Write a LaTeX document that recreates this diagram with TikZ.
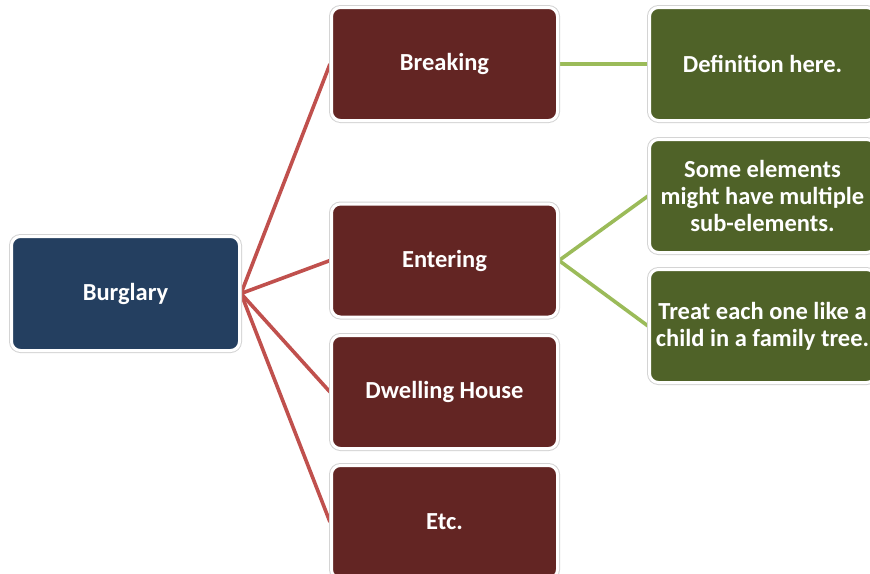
\documentclass[tikz,border=0pt]{standalone}
\usepackage{fontspec}
\setmainfont{Carlito}
\usetikzlibrary{backgrounds}
\definecolor{rootblue}{HTML}{243F60}
\definecolor{elemred}{HTML}{632523}
\definecolor{subgreen}{HTML}{4F6228}
\definecolor{linkred}{HTML}{C0504D}
\definecolor{linkgreen}{HTML}{9BBB59}
\definecolor{framegray}{HTML}{D4D4D4}
\tikzset{
  card/.style={rectangle, rounded corners=9pt, draw=white, line width=3pt,
    preaction={draw=framegray, line width=5pt},
    text=white, font=\fontsize{24.5}{27}\selectfont\bfseries, align=center,
    inner sep=0pt},
  rootcard/.style={card, fill=rootblue, minimum width=228pt, minimum height=114pt},
  elemcard/.style={card, fill=elemred, minimum width=226pt, minimum height=113pt},
  subcard/.style={card, fill=subgreen, minimum width=226pt, minimum height=113pt},
  redlink/.style={draw=linkred, line width=3.6pt},
  greenlink/.style={draw=linkgreen, line width=3.6pt},
}
\begin{document}
\begin{tikzpicture}[x=1pt, y=-1pt]
  \useasboundingbox (0,0) rectangle (870,573);
  \clip (0,0) rectangle (870,573);

  \node[rootcard] (burglary) at (125.5,293.5) {Burglary};

  \node[elemcard] (breaking) at (444.5,64)    {Breaking};
  \node[elemcard] (entering) at (444.5,260.5) {Entering};
  \node[elemcard] (dwelling) at (444.5,392)   {Dwelling House};
  \node[elemcard] (etc)      at (444.5,522)   {Etc.};

  \node[subcard] (definition) at (762.5,64)  {Definition here.};
  \node[subcard] (multiple)   at (762.5,196) {Some elements\\might have multiple\\sub-elements.};
  \node[subcard] (family)     at (762.5,326) {Treat each one like a\\child in a family tree.};

  \begin{scope}[on background layer]
    \fill[white] (0,0) rectangle (870,573);
    \draw[redlink] (burglary.east) -- (breaking.west);
    \draw[redlink] (burglary.east) -- (entering.west);
    \draw[redlink] (burglary.east) -- (dwelling.west);
    \draw[redlink] (burglary.east) -- (etc.west);
    \draw[greenlink] (breaking.east) -- (definition.west);
    \draw[greenlink] (entering.east) -- (multiple.west);
    \draw[greenlink] (entering.east) -- (family.west);
  \end{scope}
\end{tikzpicture}
\end{document}
